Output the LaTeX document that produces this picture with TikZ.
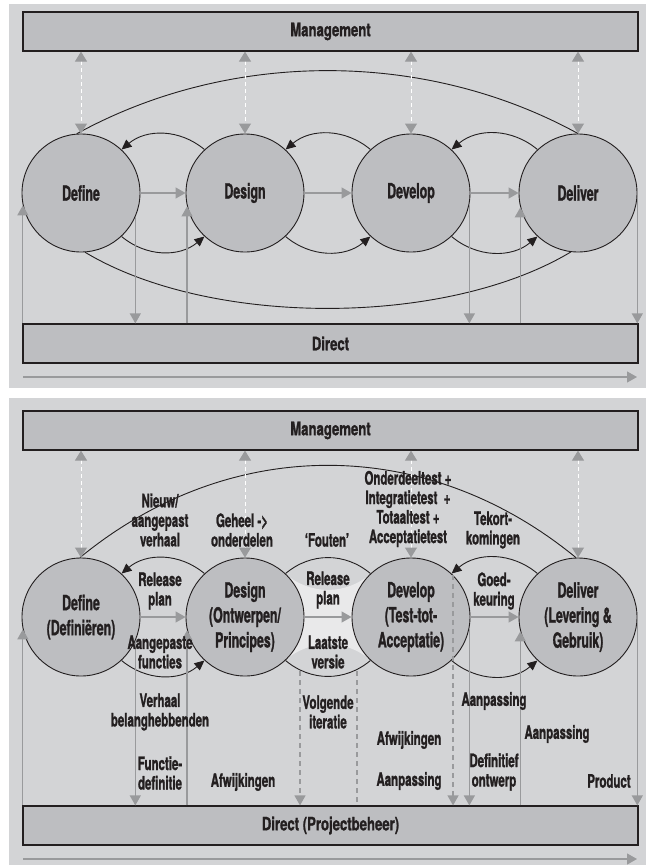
\documentclass[tikz,border=0pt]{standalone}
\usepackage{fontspec}
\setmainfont{TeX Gyre Heros}[FakeStretch=0.68, FakeBold=1.2]
\newfontfamily\circfam{TeX Gyre Heros}[FakeStretch=0.59, FakeBold=1.2, Ligatures=TeX]
\newfontfamily\labfam{TeX Gyre Heros}[FakeStretch=0.62, FakeBold=1.2, Ligatures=TeX]
\newfontfamily\bandfam{TeX Gyre Heros}[FakeStretch=0.71, FakeBold=1.2, Ligatures=TeX]
\usepackage{xcolor}
\usepackage{tikz}
\usetikzlibrary{positioning,arrows.meta}

\definecolor{panelgray}{HTML}{D3D4D6}
\definecolor{fillgray}{HTML}{BDBEC1}
\definecolor{lensgray}{HTML}{E9E9EA}
\definecolor{arrgray}{HTML}{999A9C}
\definecolor{inkgray}{HTML}{231F20}

\newcommand\circfont{\circfam\fontsize{20.9}{25}\selectfont\bfseries}
\newcommand\labfont{\labfam\fontsize{18.5}{19.5}\selectfont\bfseries}
\newcommand\bandfont{\bandfam\fontsize{18.5}{22}\selectfont\bfseries}

\begin{document}
\begin{tikzpicture}[
  x=1pt, y=-1pt,
  text=inkgray,
  band/.style={rectangle, draw=inkgray, line width=1.2pt, fill=fillgray, minimum width=615pt, minimum height=39pt, font=\bandfont},
  phase/.style={circle, draw=inkgray, line width=0.9pt, fill=fillgray, minimum size=118pt, inner sep=0pt, align=center, font=\circfont},
  lbl/.style={align=center, inner sep=0pt, font=\labfont},
  cycleline/.style={draw=inkgray, line width=0.9pt},
  feed/.style={cycleline, -{Triangle[length=10pt,width=9pt]}},
  flow/.style={draw=arrgray, line width=1.2pt, -{Triangle[length=10pt,width=11pt]}},
  dflow/.style={draw=arrgray, line width=1.2pt, dash pattern=on 5pt off 4pt},
  mgmt/.style={draw=white, line width=1pt, dash pattern=on 4pt off 3pt, {Triangle[length=10pt,width=12pt,color=arrgray]}-{Triangle[length=10pt,width=12pt,color=arrgray]}}
]
\useasboundingbox (0,0) rectangle (646,865);
% panels
\fill[panelgray] (9,4) rectangle (646,388);
\fill[panelgray] (9,398) rectangle (646,865);

%%% top panel
\node[band] (mgmtA) at (330.5,31.5) {Management};
\node[band] (dirA)  at (330.5,343.5) {Direct};
% phases
\node[phase] (defA) at (81,193)  {Define};
\node[phase] (desA) at (245,193) {Design};
\node[phase] (devA) at (411,193) {Develop};
\node[phase] (delA) at (578,193) {Deliver};
% forward flow
\draw[flow] (defA) -- (desA);
\draw[flow] (desA) -- (devA);
\draw[flow] (devA) -- (delA);
% feedback loops
\draw[feed] (desA.133) to[bend right=40] (defA.47);
\draw[feed] (devA.133) to[bend right=40] (desA.47);
\draw[feed] (delA.133) to[bend right=40] (devA.47);
\draw[feed] (defA.-47) to[bend right=40] (desA.-133);
\draw[feed] (desA.-47) to[bend right=40] (devA.-133);
\draw[feed] (devA.-47) to[bend right=40] (delA.-133);
\draw[cycleline] (defA.94) .. controls +(153,-84) and +(-153,-84) .. (delA.90);
\draw[cycleline] (defA.-86) .. controls +(125,75) and +(-125,75) .. (delA.-97);
% management links
\foreach \p in {defA,desA,devA,delA}
  \draw[mgmt] (\p.north |- mgmtA.south) -- (\p.north);
% direct links
\draw[flow] (defA.192 |- dirA.north) -- (defA.192);
\draw[flow] (defA.-24) -- (defA.-24 |- dirA.north);
\draw[flow] (desA.193 |- dirA.north) -- (desA.193);
\draw[flow] (devA.-11) -- (devA.-11 |- dirA.north);
\draw[flow] (delA.194 |- dirA.north) -- (delA.194);
\draw[flow] (delA.-4) -- (delA.-4 |- dirA.north);
% time
\coordinate (tlA0) at (23,377);
\coordinate (tlA1) at (637,377);
\draw[flow] (tlA0) -- (tlA1);

%%% bottom panel
\node[band] (mgmtB) at (330.5,430.5) {Management};
\node[band] (dirB)  at (330.5,825.5) {Direct (Projectbeheer)};
% release lens (behind the phases)
\path (245,617) ++(47:59) coordinate (lensTL)
      (245,617) ++(-47:59) coordinate (lensBL)
      (411,617) ++(133:59) coordinate (lensTR)
      (411,617) ++(-133:59) coordinate (lensBR);
\fill[lensgray] (lensTL) to[bend left=40] (lensTR) -- (lensBR) to[bend left=40] (lensBL) -- cycle;
% phases
\node[phase] (defB) at (81,617)  {Define\\(Definiëren)};
\node[phase] (desB) at (245,617) {Design\\(Ontwerpen/\\Principes)};
\node[phase] (devB) at (411,617) {Develop\\(Test-tot-\\Acceptatie)};
\node[phase] (delB) at (578,617) {Deliver\\(Levering \&\\Gebruik)};
% forward flow
\draw[flow] (defB) -- (desB);
\draw[flow] (desB) -- (devB);
\draw[flow] (devB) -- (delB);
% feedback loops
\draw[feed] (desB.133) to[bend right=40] (defB.47);
\draw[cycleline] (desB.47) to[bend left=40] (devB.133);
\draw[feed] (delB.133) to[bend right=40] (devB.47);
\draw[feed] (defB.-47) to[bend right=40] (desB.-133);
\draw[cycleline] (desB.-47) to[bend right=40] (devB.-133);
\draw[feed] (devB.-47) to[bend right=40] (delB.-133);
\draw[cycleline] (defB.91) .. controls +(150,-123) and +(-150,-123) .. (delB.92);
% management links
\foreach \p in {defB,desB,devB,delB}
  \draw[mgmt] (\p.north |- mgmtB.south) -- (\p.north);
% direct links
\coordinate (itL) at (300,671);
\coordinate (itR) at (357,671);
\draw[flow] (defB.192 |- dirB.north) -- (defB.192);
\draw[flow] (defB.-24) -- (defB.-24 |- dirB.north);
\draw[flow] (desB.193 |- dirB.north) -- (desB.193);
\draw[dflow, -{Triangle[length=10pt,width=11pt]}] (itL) -- (itL |- dirB.north);
\draw[dflow] (itR) -- (itR |- dirB.north);
\draw[dflow, -{Triangle[length=10pt,width=11pt]}] (devB.45) -- (devB.45 |- dirB.north);
\draw[flow] (devB.-11) -- (devB.-11 |- dirB.north);
\draw[flow] (delB.194 |- dirB.north) -- (delB.194);
\draw[flow] (delB.-4) -- (delB.-4 |- dirB.north);
% time
\coordinate (tlB0) at (23,859);
\coordinate (tlB1) at (637,859);
\draw[flow] (tlB0) -- (tlB1);
% labels
\node[lbl] (lNieuw)   at (160,520) {Nieuw/\\aangepast\\verhaal};
\node[lbl] (lGeheel)  at (242,530) {Geheel ->\\onderdelen};
\node[lbl] (lFouten)  at (327,540) {‘Fouten’};
\node[lbl] (lTests)   at (408,509) {Onderdeeltest +\\Integratietest \ +\\Totaaltest +\\Acceptatietest};
\node[lbl] (lTekort)  at (493,530) {Tekort-\\komingen};
\node[lbl] (lRelL)    at (160,591) {Release\\plan};
\node[lbl] (lRelM)    at (328,590) {Release\\plan};
\node[lbl] (lGoed)    at (494,591) {Goed-\\keuring};
\node[lbl] (lAangep)  at (160,652) {Aangepaste\\functies};
\node[lbl] (lLaatste) at (328,652) {Laatste\\versie};
\node[lbl] (lVerhaal) at (160,712) {Verhaal\\belanghebbenden};
\node[lbl] (lVolg)    at (328,712) {Volgende\\iteratie};
\node[lbl] (lAanpA)   at (494,701) {Aanpassing};
\node[lbl] (lAfwR)    at (409,740) {Afwijkingen};
\node[lbl] (lAanpB)   at (557,734) {Aanpassing};
\node[lbl] (lFunc)    at (160,773) {Functie-\\definitie};
\node[lbl] (lDefin)   at (494,772) {Definitief\\ontwerp};
\node[lbl] (lAfwL)    at (243,782) {Afwijkingen};
\node[lbl] (lAanpC)   at (409,781) {Aanpassing};
\node[lbl] (lProd)    at (609,781) {Product};
\end{tikzpicture}
\end{document}
